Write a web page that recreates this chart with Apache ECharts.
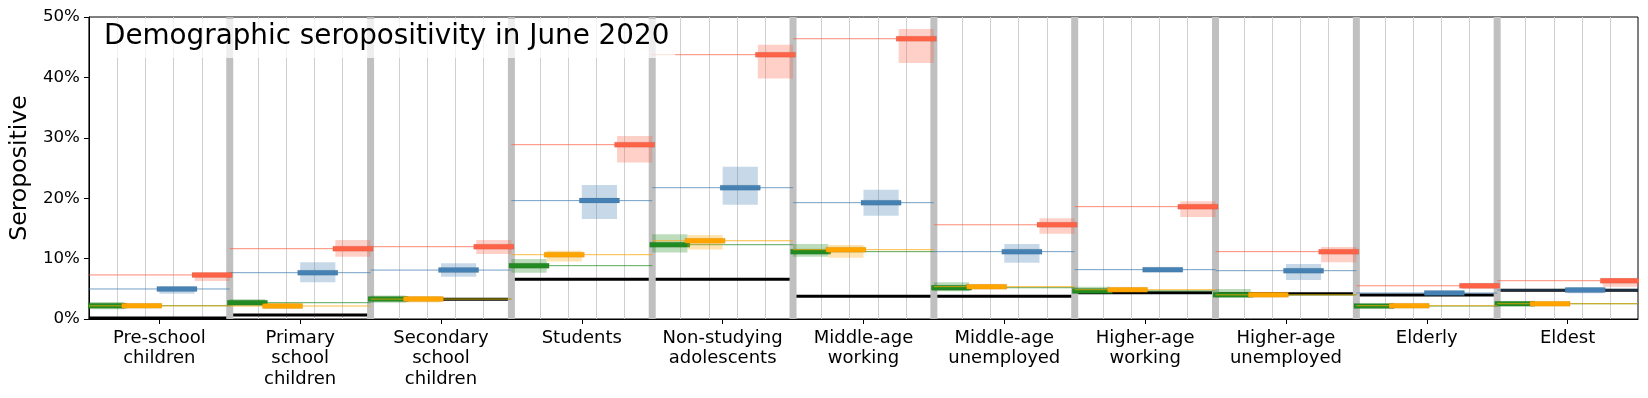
<!DOCTYPE html>
<html><head><meta charset="utf-8">
<script src="https://cdn.jsdelivr.net/npm/echarts@6/dist/echarts.min.js"></script>
<style>html,body{margin:0;padding:0;background:#fff}#c{width:1648px;height:398px}</style>
</head><body><div id="c"></div>
<script>
// ---- data (percent seropositive) ----
const categories = ['Pre-school\nchildren','Primary\nschool\nchildren','Secondary\nschool\nchildren','Students','Non-studying\nadolescents','Middle-age\nworking','Middle-age\nunemployed','Higher-age\nworking','Higher-age\nunemployed','Elderly','Eldest'];
const observed = [0.15, 0.65, 3.26, 6.57, 6.57, 3.76, 3.76, 4.36, 4.2, 3.97, 4.75];

const greenMid = [2.2, 2.7, 3.3, 8.83, 12.3, 11.15, 5.18, 4.65, 4.0, 2.15, 2.53];
const greenLo  = [1.6, 2.15, 2.7, 7.65, 11.0, 10.3, 4.6, 4.25, 3.5, 1.9, 2.3];
const greenHi  = [2.8, 3.25, 3.9, 9.95, 14.05, 12.4, 6.1, 5.35, 4.97, 2.5, 2.8];

const orangeMid = [2.18, 2.15, 3.3, 10.65, 12.96, 11.48, 5.35, 4.85, 4.0, 2.2, 2.53];
const orangeLo  = [1.95, 1.7, 2.75, 9.5, 11.5, 10.15, 5.0, 4.55, 3.6, 1.95, 2.3];
const orangeHi  = [2.45, 2.6, 3.8, 11.3, 13.9, 12.25, 5.7, 5.15, 4.4, 2.45, 2.75];

const blueMid = [4.97, 7.67, 8.1, 19.6, 21.74, 19.26, 11.15, 8.17, 8.0, 4.3, 4.8];
const blueLo  = [4.2, 6.1, 7.0, 16.55, 18.9, 17.1, 9.3, 7.9, 6.45, 4.1, 4.25];
const blueHi  = [5.4, 9.4, 9.25, 22.2, 25.2, 21.4, 12.4, 8.4, 9.1, 4.5, 5.25];

const redMid = [7.3, 11.64, 11.97, 28.86, 43.76, 46.4, 15.6, 18.6, 11.15, 5.5, 6.34];
const redLo  = [6.3, 10.3, 10.75, 25.9, 39.8, 42.4, 14.1, 16.9, 9.4, 4.97, 5.35];
const redHi  = [7.7, 13.1, 13.1, 30.3, 45.4, 48.0, 16.7, 19.5, 11.9, 5.9, 6.74];

const yTicks = [0, 10, 20, 30, 40, 50];
const titleText = 'Demographic seropositivity in June 2020';
const yName = 'Seropositive';

// ---- chart ----
const FONT = 'DejaVu Sans';
const chart = echarts.init(document.getElementById('c'), null, {renderer: 'canvas'});

const idx = categories.map((_, i) => i);

function scenario(name, k, mid, lo, hi, color, rgb) {
  return {
    type: 'custom', name: name, clip: true, z: 5 + k,
    encode: {x: 0, y: 1},
    data: idx.map(i => [i, mid[i], lo[i], hi[i]]),
    renderItem: function (params, api) {
      const i = api.value(0);
      const c = api.coord([i, api.value(1)]);
      const bw = api.size([1, 0])[0];
      const x0 = c[0] - bw / 2;
      const slot = bw / 4;
      const sx = x0 + k * slot;
      const yLo = api.coord([i, api.value(2)])[1];
      const yHi = api.coord([i, api.value(3)])[1];
      return {type: 'group', children: [
        {type: 'rect', shape: {x: sx, y: yHi, width: slot, height: yLo - yHi}, style: {fill: 'rgba(' + rgb + ',0.3)'}},
        {type: 'rect', shape: {x: sx - 2.5, y: c[1] - 2.5, width: slot + 5, height: 5}, style: {fill: color, stroke: 'rgba(0,0,0,0.08)', lineWidth: 1}},
        {type: 'line', shape: {x1: x0, y1: c[1], x2: x0 + bw, y2: c[1]}, style: {stroke: 'rgba(' + rgb + ',0.75)', lineWidth: 1}}
      ]};
    }
  };
}

const option = {
  animation: false,
  backgroundColor: '#fff',
  grid: {left: 88, right: 10, top: 17, bottom: 79, show: true, borderColor: '#000', borderWidth: 1, backgroundColor: 'transparent'},
  xAxis: {
    type: 'category', data: categories, boundaryGap: true,
    axisLine: {show: true, lineStyle: {color: '#000', width: 1}},
    axisTick: {show: true, alignWithLabel: true, length: 5, lineStyle: {color: '#000', width: 1}},
    axisLabel: {color: '#000', fontFamily: FONT, fontSize: 18, lineHeight: 20.5, margin: 9, interval: 0},
    splitLine: {show: false}
  },
  yAxis: {
    type: 'value', min: yTicks[0], max: yTicks[yTicks.length - 1], interval: 10,
    name: yName, nameLocation: 'middle', nameGap: 55, nameRotate: 90,
    nameTextStyle: {color: '#000', fontFamily: FONT, fontSize: 23.6},
    axisLine: {show: true, lineStyle: {color: '#000', width: 1}},
    axisTick: {show: true, length: 5, lineStyle: {color: '#000', width: 1}},
    axisLabel: {color: '#000', fontFamily: FONT, fontSize: 16.67, margin: 9, formatter: '{value}%'},
    splitLine: {show: false}
  },
  series: [
    { // minor vertical grid lines at fifths of each group
      type: 'custom', z: 1, clip: true, encode: {x: 0, y: 1},
      data: idx.map(i => [i, 0]),
      renderItem: function (params, api) {
        const i = api.value(0);
        const c = api.coord([i, 0]);
        const top = api.coord([i, yTicks[yTicks.length - 1]])[1];
        const bw = api.size([1, 0])[0];
        const x0 = c[0] - bw / 2;
        const ch = [];
        for (let j = 1; j < 5; j++) {
          const x = Math.round(x0 + j * bw / 5) + 0.5;
          ch.push({type: 'line', shape: {x1: x, y1: top, x2: x, y2: c[1]}, style: {stroke: '#d0d0d0', lineWidth: 1}});
        }
        return {type: 'group', children: ch};
      }
    },
    { // observed (black)
      type: 'custom', z: 2, clip: true, encode: {x: 0, y: 1},
      data: idx.map(i => [i, observed[i]]),
      renderItem: function (params, api) {
        const c = api.coord([api.value(0), api.value(1)]);
        const bw = api.size([1, 0])[0];
        return {type: 'line', shape: {x1: c[0] - bw / 2, y1: c[1], x2: c[0] + bw / 2, y2: c[1]}, style: {stroke: '#000', lineWidth: 3}};
      }
    },
    { // group separators
      type: 'custom', z: 3, clip: true, encode: {x: 0, y: 1},
      data: idx.slice(1).map(i => [i, 0]),
      renderItem: function (params, api) {
        const i = api.value(0);
        const c = api.coord([i, 0]);
        const top = api.coord([i, yTicks[yTicks.length - 1]])[1];
        const bw = api.size([1, 0])[0];
        const xb = c[0] - bw / 2;
        return {type: 'rect', shape: {x: xb - 3.5, y: top, width: 7, height: c[1] - top}, style: {fill: '#c0c0c0'}};
      }
    },
    scenario('green', 0, greenMid, greenLo, greenHi, '#228b22', '34,139,34'),
    scenario('orange', 1, orangeMid, orangeLo, orangeHi, '#ffa500', '255,165,0'),
    scenario('blue', 2, blueMid, blueLo, blueHi, '#4682b4', '70,130,180'),
    scenario('red', 3, redMid, redLo, redHi, '#ff6347', '255,99,71')
  ],
  graphic: [
    {type: 'rect', z: 100, shape: {x: 90, y: 19, width: 585, height: 39}, style: {fill: 'rgba(255,255,255,0.72)'}},
    {type: 'text', z: 101, x: 104, y: 37, style: {text: titleText, fontFamily: FONT, fontSize: 27.8, fill: '#000', textVerticalAlign: 'middle', verticalAlign: 'middle'}}
  ]
};
chart.setOption(option);
</script>
</body></html>
